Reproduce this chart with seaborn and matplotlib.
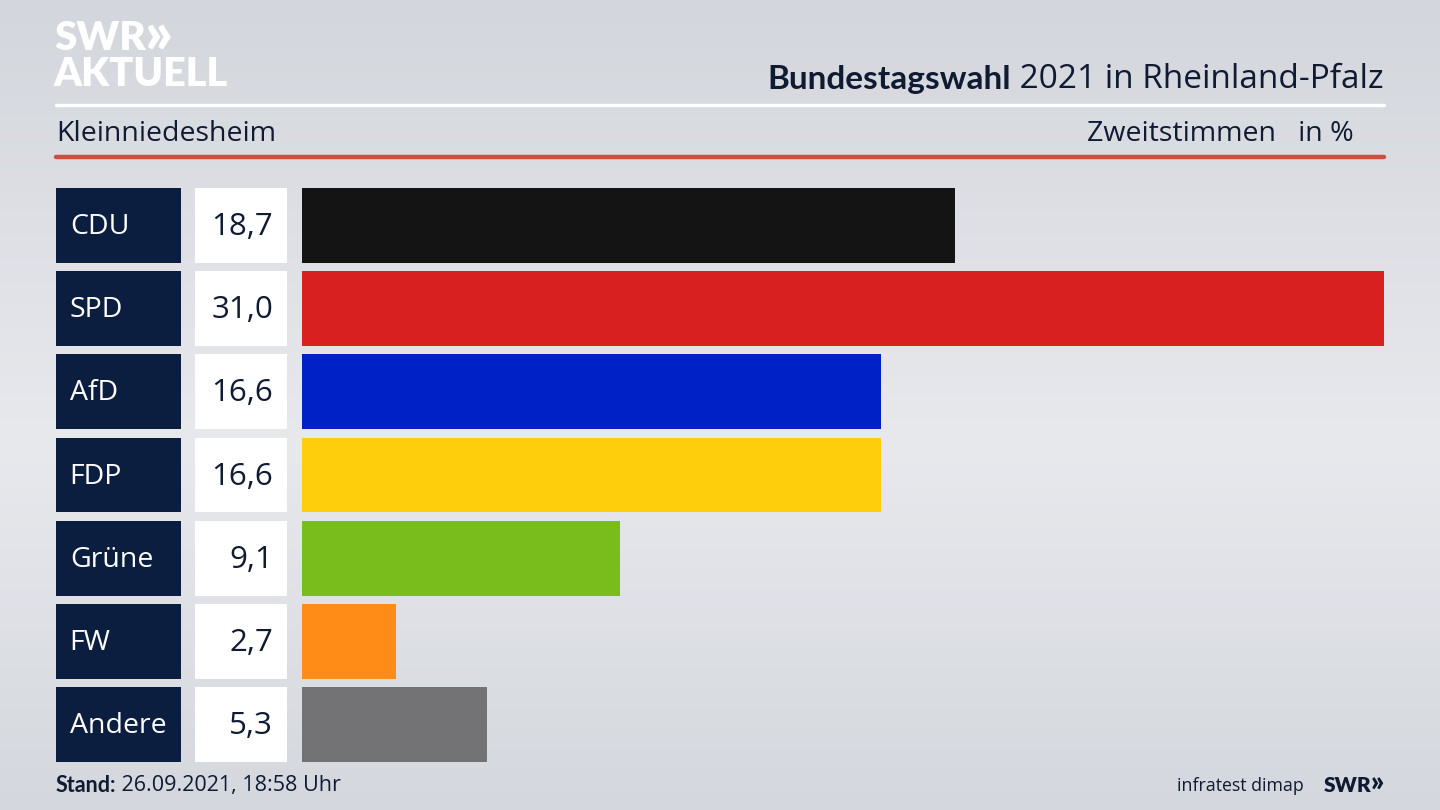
import numpy as np
import pandas as pd
import matplotlib
matplotlib.use("Agg")
import matplotlib.pyplot as plt
import seaborn as sns

# ---- data ----
parties = ["CDU", "SPD", "AfD", "FDP", "Grüne", "FW", "Andere"]
values = [18.7, 31.0, 16.6, 16.6, 9.1, 2.7, 5.3]
colors = ["#141414", "#d7201f", "#0021c6", "#fecd0b", "#78bd1c", "#fe8c17", "#737375"]
title_bold = "Bundestagswahl"
title_rest = " 2021 in Rheinland-Pfalz"
place = "Kleinniedesheim"
measure = "Zweitstimmen   in %"
stand_bold = "Stand:"
stand_rest = " 26.09.2021, 18:58 Uhr"
source = "infratest dimap"

sns.set_theme(style="white")
FONT = ["Open Sans", "Noto Sans", "DejaVu Sans"]
BOLD = ["Lato", "Roboto", "DejaVu Sans"]
plt.rcParams["font.family"] = FONT

W, H = 1440, 810
fig = plt.figure(figsize=(W / 100, H / 100), dpi=100)

def fx(x):
    return x / W

def fy(y):
    return 1 - y / H

NAVY = "#0c1e3f"
TXT = "#0f1b33"

# background gradient
bg = fig.add_axes([0, 0, 1, 1], zorder=-10)
yy = np.linspace(0, 1, 200)
top = np.array([211, 214, 220]) / 255
mid = np.array([232, 233, 237]) / 255
bot = np.array([212, 215, 221]) / 255
grad = np.where(yy[:, None] < 0.55,
                top + (mid - top) * (yy[:, None] / 0.55),
                mid + (bot - mid) * ((yy[:, None] - 0.55) / 0.45))
bg.imshow(grad[:, None, :], aspect="auto", extent=[0, 1, 1, 0])
bg.set_axis_off()

df = pd.DataFrame({"party": parties, "value": values, "one": [1] * len(parties)})

y_top, y_bot = 188 - 4.2, 762 + 4.2
bw = 0.9

def mkax(x0, x1):
    ax = fig.add_axes([fx(x0), fy(y_bot), fx(x1) - fx(x0), (y_bot - y_top) / H])
    ax.set_axis_off()
    return ax

# bars
ax = mkax(302, 1384)
sns.barplot(data=df, x="value", y="party", hue="party", palette=colors,
            width=bw, orient="h", legend=False, ax=ax, saturation=1, linewidth=0)
ax.set_xlim(0, max(values))
ax.set_ylim(len(parties) - 0.5, -0.5)
ax.set_axis_off()

# party label boxes
axl = mkax(56, 181)
sns.barplot(data=df, x="one", y="party", color=NAVY, width=bw, orient="h",
            ax=axl, saturation=1, linewidth=0)
axl.set_xlim(0, 1)
axl.set_ylim(len(parties) - 0.5, -0.5)
axl.set_axis_off()
for i, p in enumerate(parties):
    axl.text(0.11, i + 0.02, p, color="white", fontsize=20.5, va="center", ha="left")

# value boxes
axv = mkax(195, 287)
sns.barplot(data=df, x="one", y="party", color="white", width=bw, orient="h",
            ax=axv, saturation=1, linewidth=0)
axv.set_xlim(0, 1)
axv.set_ylim(len(parties) - 0.5, -0.5)
axv.set_axis_off()
for i, v in enumerate(values):
    axv.text(0.85, i + 0.02, f"{v:.1f}".replace(".", ","), color=TXT, fontsize=22.5,
             va="center", ha="right")

# lines
fig.add_artist(plt.Line2D([fx(56), fx(1384)], [fy(104.5), fy(104.5)], color="white", lw=2.4))
fig.add_artist(plt.Line2D([fx(56), fx(1384)], [fy(157), fy(157)], color="#cc4f3b", lw=3.2))

fig.canvas.draw()
r = fig.canvas.get_renderer()

def right_pair(xr, y, bold, rest, size, color):
    t2 = fig.text(fx(xr), fy(y), rest, fontsize=size, color=color, ha="right", va="center")
    bb = t2.get_window_extent(r)
    fig.text(bb.x0 / W, fy(y), bold, fontsize=size, color=color, ha="right",
             va="center", fontweight="bold", family=BOLD)

def left_pair(xl, y, bold, rest, size, color):
    t1 = fig.text(fx(xl), fy(y), bold, fontsize=size, color=color, ha="left",
                  va="center", fontweight="bold", family=BOLD)
    bb = t1.get_window_extent(r)
    fig.text(bb.x1 / W, fy(y), rest, fontsize=size, color=color, ha="left", va="center")

right_pair(1384, 80, title_bold, title_rest, 24, TXT)
fig.text(fx(56), fy(134), place, fontsize=20.5, color=TXT, ha="left", va="center")
fig.text(fx(1354), fy(134), measure, fontsize=20.5, color=TXT, ha="right", va="center")

left_pair(56, 786, stand_bold, stand_rest, 15.5, TXT)

# footer SWR mark
chev = fig.text(fx(1384), fy(784), "»", fontsize=20, color=TXT, ha="right",
                va="center", fontweight="heavy", family=BOLD)
bb = chev.get_window_extent(r)
t = fig.text(bb.x0 / W + 1 / W, fy(786), "SWR", fontsize=15, color=TXT, ha="right",
             va="center", fontweight="heavy", family=BOLD)
bb = t.get_window_extent(r)
fig.text(bb.x0 / W - 20 / W, fy(786), source, fontsize=12.8, color=TXT,
         ha="right", va="center")

# logo
t = fig.text(fx(54), fy(38), "SWR", fontsize=29, color="white", fontweight="heavy",
             ha="left", va="center", family=BOLD)
bb = t.get_window_extent(r)
fig.text(bb.x1 / W - 2 / W, fy(35), "»", fontsize=42, color="white", fontweight="heavy",
         ha="left", va="center", family=BOLD)
fig.text(fx(54), fy(75), "AKTUELL", fontsize=28.5, color="white", fontweight="heavy",
         ha="left", va="center", family=BOLD)

fig.savefig("out.png", dpi=100)
